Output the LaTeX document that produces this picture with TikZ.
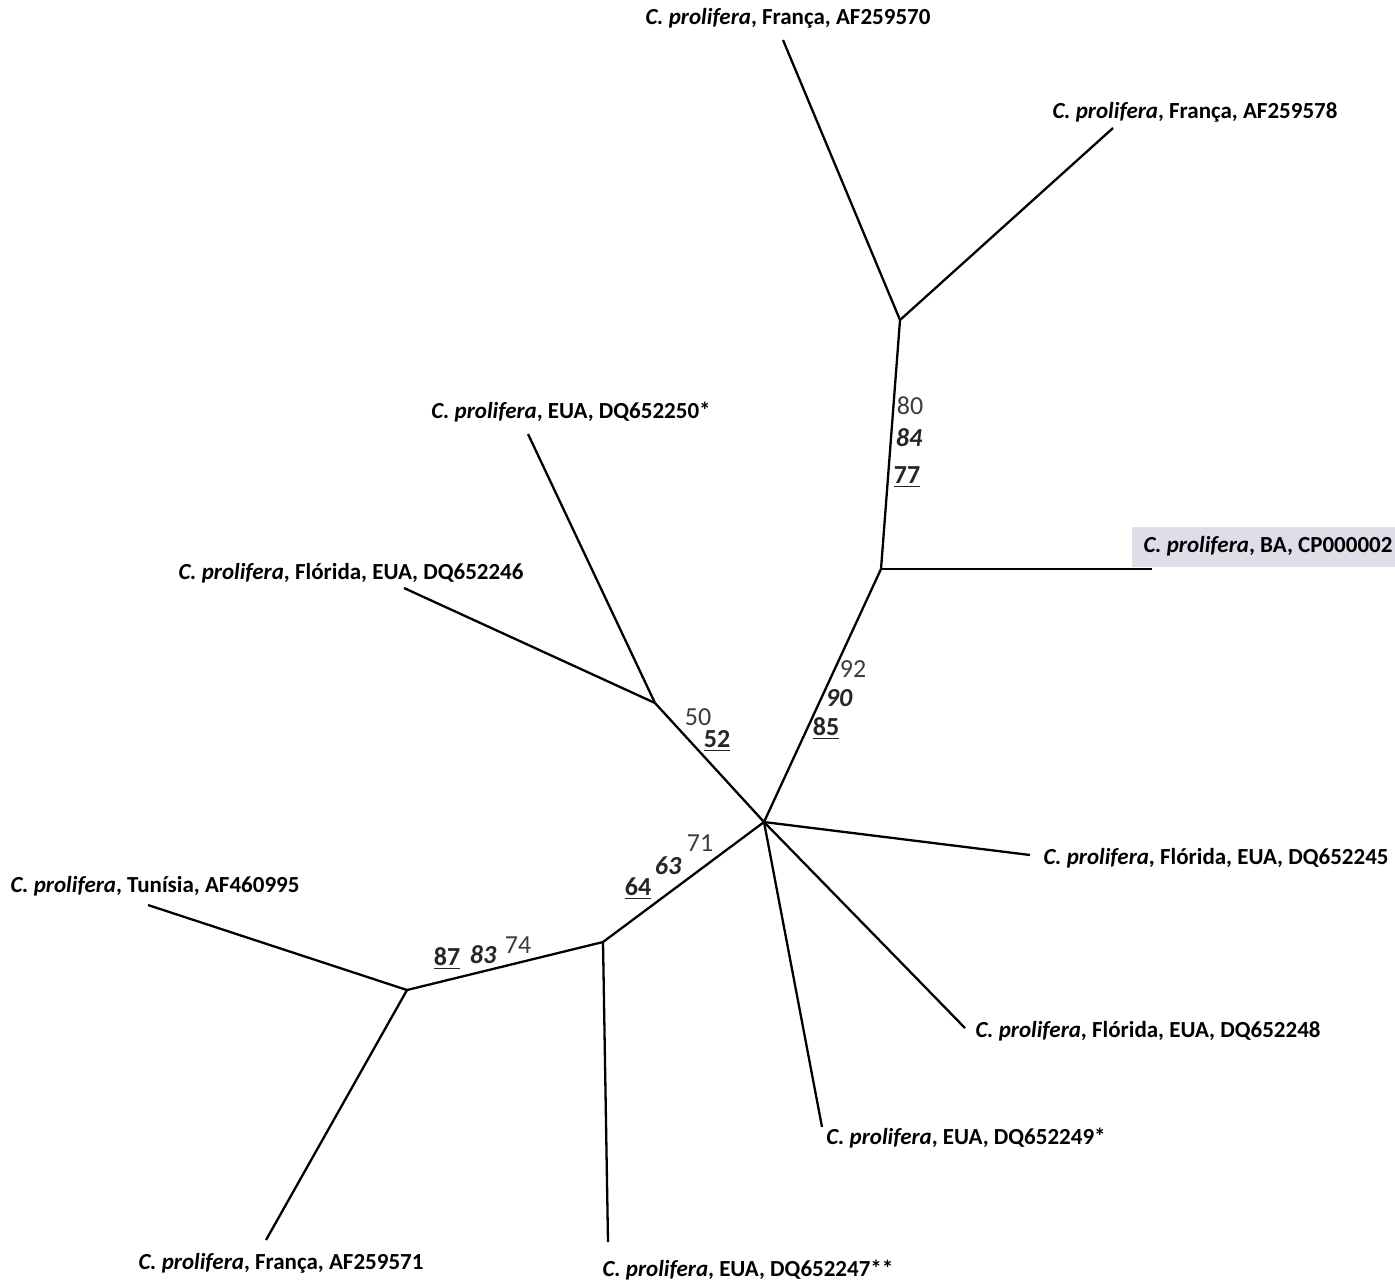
\documentclass[tikz,border=0pt]{standalone}
\usepackage{fontspec}
\setmainfont{Carlito}
\definecolor{numgray}{RGB}{60,60,60}
\definecolor{hl}{RGB}{222,222,232}
\tikzset{
  br/.style={line width=1.15pt, black},
  leaf/.style={font=\fontsize{11.5}{13}\selectfont\bfseries, inner sep=0pt, anchor=center},
  num/.style={font=\fontsize{13}{15}\selectfont, text=numgray, inner sep=0pt},
  numbi/.style={font=\fontsize{13}{15}\selectfont\bfseries\itshape, text=black!85, inner sep=0pt},
  numbu/.style={font=\fontsize{13}{15}\selectfont\bfseries, text=black!85, inner sep=0pt}
}
\newcommand{\cp}{\textit{C. prolifera}}
\begin{document}
\begin{tikzpicture}[x=0.5pt,y=-0.5pt]
\useasboundingbox (0,0) rectangle (1395,1281);
% internal nodes
\coordinate (C) at (764,822);
\coordinate (A) at (881,569);
\coordinate (B) at (900,320);
\coordinate (D) at (655,703);
\coordinate (E) at (603,942);
\coordinate (F) at (407,990);
% leaf ends
\coordinate (l1) at (783,40);
\coordinate (l2) at (1113,128);
\coordinate (l3) at (1152,569);
\coordinate (l4) at (528,434);
\coordinate (l5) at (404,588);
\coordinate (l6) at (1030,855);
\coordinate (l7) at (965,1028);
\coordinate (l8) at (822,1127);
\coordinate (l9) at (608,1242);
\coordinate (l10) at (148,905);
\coordinate (l11) at (266,1240);
% highlight
\fill[hl] (1132,527) rectangle (1395,567);
% branches
\draw[br] (C) -- (A);
\draw[br] (A) -- (B);
\draw[br] (B) -- (l1);
\draw[br] (B) -- (l2);
\draw[br] (A) -- (l3);
\draw[br] (C) -- (D);
\draw[br] (D) -- (l4);
\draw[br] (D) -- (l5);
\draw[br] (C) -- (l6);
\draw[br] (C) -- (l7);
\draw[br] (C) -- (l8);
\draw[br] (C) -- (E);
\draw[br] (E) -- (l9);
\draw[br] (E) -- (F);
\draw[br] (F) -- (l10);
\draw[br] (F) -- (l11);
% leaf labels
\node[leaf] (t1) at (788,18) {\cp, França, AF259570};
\node[leaf] (t2) at (1195,112) {\cp, França, AF259578};
\node[leaf] (t3) at (1268,546) {\cp, BA, CP000002};
\node[leaf] (t4) at (571,412) {\cp, EUA, DQ652250*};
\node[leaf] (t5) at (351,573) {\cp, Flórida, EUA, DQ652246};
\node[leaf] (t6) at (1216,858) {\cp, Flórida, EUA, DQ652245};
\node[leaf] (t7) at (1148,1031) {\cp, Flórida, EUA, DQ652248};
\node[leaf] (t8) at (966,1138) {\cp, EUA, DQ652249*};
\node[leaf] (t9) at (748,1270) {\cp, EUA, DQ652247**};
\node[leaf] (t10) at (155,886) {\cp, Tunísia, AF460995};
\node[leaf] (t11) at (281,1263) {\cp, França, AF259571};
% support values
\node[num] (n80) at (910,406) {80};
\node[numbi] (n84) at (909,438) {84};
\node[numbu] (n77) at (907,477) {\underline{77}};
\node[num] (n92) at (853,669) {92};
\node[numbi] (n90) at (839,698) {90};
\node[numbu] (n85) at (826,729) {\underline{85}};
\node[num] (n50) at (698,717) {50};
\node[numbu] (n52) at (717,741) {\underline{52}};
\node[num] (n71) at (700,843) {71};
\node[numbi] (n63) at (668,866) {63};
\node[numbu] (n64) at (638,889) {\underline{64}};
\node[num] (n74) at (518,945) {74};
\node[numbi] (n83) at (483,955) {83};
\node[numbu] (n87) at (447,959) {\underline{87}};
\end{tikzpicture}
\end{document}
